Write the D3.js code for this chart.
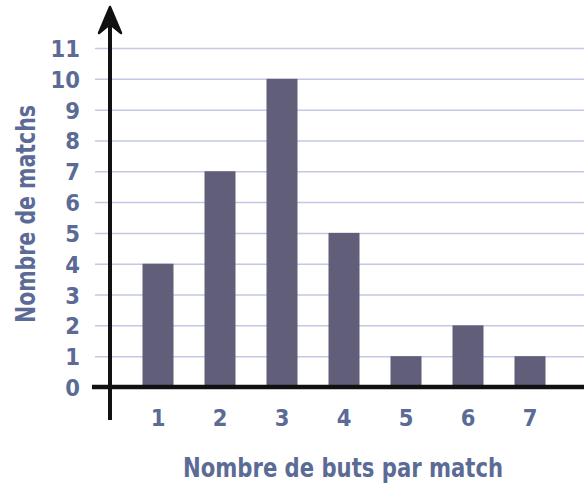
<!DOCTYPE html>
<html>
<head>
<meta charset="utf-8">
<script src="https://cdn.jsdelivr.net/npm/d3@7"></script>
<style>
  body { margin: 0; background: #fff; }
  svg text { font-family: "DejaVu Sans Condensed", "DejaVu Sans", sans-serif; font-weight: bold; fill: #5b6b95; }
</style>
</head>
<body>
<div id="chart"></div>
<script>
// nombre de buts par match -> nombre de matchs
const goals = ['1', '2', '3', '4', '5', '6', '7'];
const matches = [4, 7, 10, 5, 1, 2, 1];
const yTicks = [0, 1, 2, 3, 4, 5, 6, 7, 8, 9, 10, 11];

const width = 584;
const height = 486;
const textColor = '#5b6b95';

const svg = d3.select('#chart')
  .append('svg')
  .attr('width', width)
  .attr('height', height);

const x = d3.scaleBand()
  .domain(goals)
  .range([127, 127 + 62 * goals.length])
  .paddingInner(0.5)
  .paddingOuter(0.25);

const y = d3.scaleLinear()
  .domain([0, 11])
  .range([387, 48]);

// grid lines
const grid = svg.append('g')
  .attr('transform', 'translate(95,0)')
  .call(d3.axisRight(y).tickValues(yTicks.slice(1)).tickSize(width - 95).tickFormat(''));
grid.select('.domain').remove();
grid.selectAll('line').attr('stroke', '#c3c8e4').attr('stroke-width', 1.5);

// bars
svg.append('g')
  .selectAll('rect')
  .data(matches)
  .enter()
  .append('rect')
  .attr('x', (d, i) => x(goals[i]))
  .attr('y', d => y(d))
  .attr('width', x.bandwidth())
  .attr('height', d => y(0) - y(d))
  .attr('fill', '#605e79');

// y tick labels
const yAxis = svg.append('g')
  .attr('transform', 'translate(80,0)')
  .call(d3.axisLeft(y).tickValues(yTicks).tickSize(0).tickPadding(0));
yAxis.select('.domain').remove();
yAxis.selectAll('text')
  .attr('font-size', 23.5)
  .attr('dy', '0.36em')
  .style('fill', textColor);

// x tick labels
const xAxis = svg.append('g')
  .attr('transform', 'translate(0,' + y(0) + ')')
  .call(d3.axisBottom(x).tickSize(0).tickPadding(0));
xAxis.select('.domain').remove();
xAxis.selectAll('text')
  .attr('font-size', 23.5)
  .attr('y', 31)
  .attr('dy', '0.36em')
  .style('fill', textColor);

// axis lines
svg.append('line')
  .attr('x1', 92).attr('x2', width)
  .attr('y1', y(0)).attr('y2', y(0))
  .attr('stroke', '#111').attr('stroke-width', 4.5);

svg.append('line')
  .attr('x1', 110).attr('x2', 110)
  .attr('y1', 14).attr('y2', 420)
  .attr('stroke', '#111').attr('stroke-width', 4);

// arrow head
svg.append('path')
  .attr('d', 'M110,7 L121,33 L110,24 L99,33 Z')
  .attr('fill', '#111')
  .attr('stroke', '#111')
  .attr('stroke-width', 2.5)
  .attr('stroke-linejoin', 'round');

// titles
svg.append('text')
  .attr('x', 343)
  .attr('y', 467)
  .attr('dy', '0.36em')
  .attr('text-anchor', 'middle')
  .attr('font-size', 27)
  .attr('textLength', 320)
  .attr('lengthAdjust', 'spacingAndGlyphs')
  .text('Nombre de buts par match');

svg.append('text')
  .attr('transform', 'translate(25,214) rotate(-90)')
  .attr('dy', '0.36em')
  .attr('text-anchor', 'middle')
  .attr('font-size', 27)
  .attr('textLength', 218)
  .attr('lengthAdjust', 'spacingAndGlyphs')
  .text('Nombre de matchs');
</script>
</body>
</html>
